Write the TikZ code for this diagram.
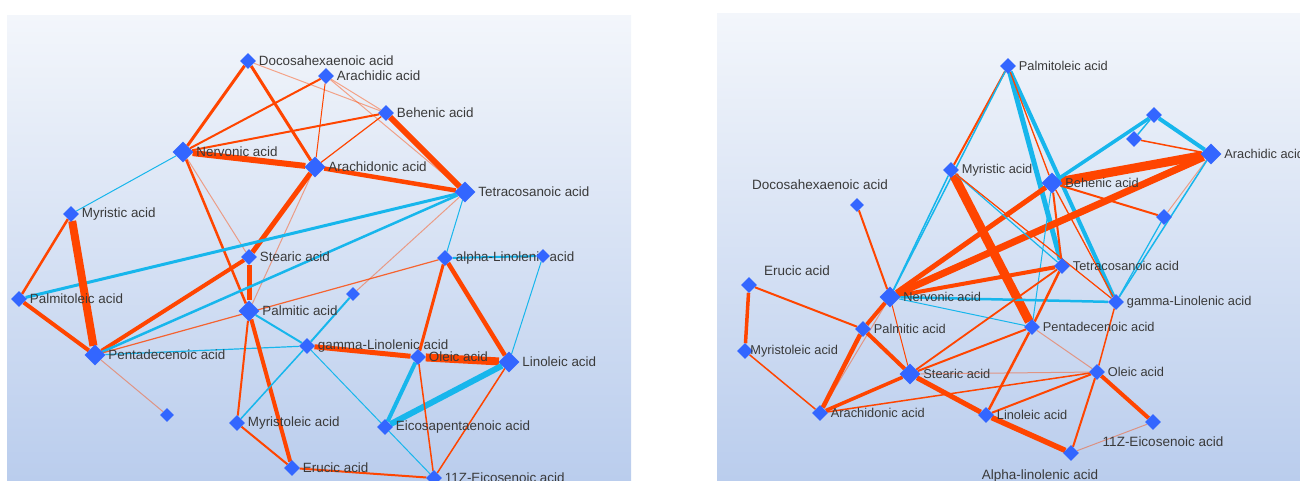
\documentclass[tikz,border=0pt]{standalone}
\usepackage{fontspec}
\setmainfont{Liberation Sans}
\usetikzlibrary{shapes.geometric}
\pgfdeclarelayer{edges}
\pgfsetlayers{edges,main}
\definecolor{edgeOr}{HTML}{FF4500}
\definecolor{edgeCy}{HTML}{17B6EC}
\definecolor{nodeBl}{HTML}{3366FF}
\definecolor{txtGr}{HTML}{3A3A3A}
\definecolor{bgTop}{HTML}{F3F6FB}
\definecolor{bgBot}{HTML}{BACDED}
\tikzset{
  nd/.style={diamond, fill=nodeBl, draw=none, inner sep=0pt, minimum width=16pt, minimum height=16pt},
  bignd/.style={nd, minimum width=21pt, minimum height=21pt},
  smnd/.style={nd, minimum width=14pt, minimum height=14pt},
  labL/.style={text=txtGr, font=\fontsize{13.4}{15}\selectfont, inner sep=1pt},
  labR/.style={text=txtGr, font=\fontsize{12.8}{15}\selectfont, inner sep=1pt},
  labX/.style={text=txtGr, font=\fontsize{13.5}{15}\selectfont, inner sep=1pt},
  eo/.style={draw=edgeOr, line width=#1},
  ec/.style={draw=edgeCy, line width=#1},
  el/.style={draw=edgeOr, opacity=.45, line width=1pt},
}
\begin{document}
\begin{tikzpicture}[x=1pt,y=-1pt]
\useasboundingbox (0,0) rectangle (1300,480);
% ---------- left graph nodes ----------
\begin{scope}[every label/.style={labL}, label distance=1.5pt]
\node[nd, label=right:Docosahexaenoic acid] (LDoc) at (248,61) {};
\node[nd, label=right:Arachidic acid] (LAchd) at (326,76) {};
\node[nd, label=right:Behenic acid] (LBeh) at (386,113) {};
\node[bignd, label=right:Nervonic acid] (LNerv) at (183,152) {};
\node[bignd, label=right:Arachidonic acid] (LAchn) at (315,167) {};
\node[bignd, label=right:Tetracosanoic acid] (LTetra) at (465,192) {};
\node[nd, label=right:Myristic acid] (LMyr) at (71,214) {};
\node[nd, label=right:Stearic acid] (LSte) at (249,257) {};
\node[nd, label=right:alpha-Linolenic acid] (LaLin) at (445,258) {};
\node[smnd] (LU1) at (543,256) {};
\node[nd, label=right:Palmitoleic acid] (LPalO) at (19,299) {};
\node[smnd] (LU2) at (353,294) {};
\node[bignd, label=right:Palmitic acid] (LPalm) at (249,311) {};
\node[nd, label=right:gamma-Linolenic acid] (LgLin) at (307,346) {};
\node[bignd, label=right:Pentadecenoic acid] (LPent) at (95,355) {};
\node[nd, label=right:Oleic acid] (LOle) at (418,357) {};
\node[bignd, label=right:Linoleic acid] (LLin) at (509,362) {};
\node[smnd] (LU3) at (167,415) {};
\node[nd, label=right:Myristoleic acid] (LMyrO) at (237,423) {};
\node[nd, label=right:Eicosapentaenoic acid] (LEpa) at (385,427) {};
\node[nd, label=right:Erucic acid] (LEru) at (292,468) {};
\node[nd, label=right:11Z-Eicosenoic acid] (L11Z) at (434,478) {};
\end{scope}
% ---------- right graph nodes ----------
\begin{scope}[every label/.style={labR}, label distance=1.5pt]
\node[nd, label=right:Palmitoleic acid] (RPalO) at (1008,66) {};
\node[nd] (RU1) at (1154,115) {};
\node[nd] (RU2) at (1134,139) {};
\node[bignd, label=right:Arachidic acid] (RAchd) at (1211,154) {};
\node[nd, label=right:Myristic acid] (RMyr) at (951,170) {};
\node[bignd, label=right:Behenic acid] (RBeh) at (1052,183) {};
\node[smnd, label={[labX, xshift=-37pt, label distance=7pt]above:Docosahexaenoic acid}] (RDoc) at (857,205) {};
\node[nd] (RU3) at (1164,217) {};
\node[nd, label=right:Tetracosanoic acid] (RTetra) at (1062,266) {};
\node[nd, label=right:gamma-Linolenic acid] (RgLin) at (1116,302) {};
\node[nd, label={[labX, xshift=48pt, label distance=0pt]above:Erucic acid}] (REru) at (749,285) {};
\node[bignd, label=right:Nervonic acid] (RNerv) at (890,297) {};
\node[nd, label=right:Palmitic acid] (RPalm) at (863,329) {};
\node[nd, label=right:Pentadecenoic acid] (RPent) at (1032,327) {};
\node[nd, label={[labR, label distance=-4pt]right:Myristoleic acid}] (RMyrO) at (745,351) {};
\node[nd, label=right:Oleic acid] (ROle) at (1097,372) {};
\node[bignd, label=right:Stearic acid] (RSte) at (910,374) {};
\node[nd, label=right:Arachidonic acid] (RAchn) at (820,413) {};
\node[nd, label=right:Linoleic acid] (RLin) at (986,415) {};
\node[nd, label={[labX, xshift=10pt, label distance=5pt]below:11Z-Eicosenoic acid}] (R11Z) at (1153,422) {};
\node[nd, label={[labX, xshift=-31pt, label distance=7pt]below:Alpha-linolenic acid}] (RAlin) at (1071,453) {};
\end{scope}
\begin{pgfonlayer}{edges}
\shade[top color=bgTop, bottom color=bgBot] (7,15) rectangle (631,480);
\shade[top color=bgTop, bottom color=bgBot] (717,13) rectangle (1300,480);
% ---------- left edges ----------
\draw[eo=3pt] (LDoc) -- (LNerv);
\draw[eo=3pt] (LDoc) -- (LAchn);
\draw[el] (LDoc) -- (LBeh);
\draw[eo=2pt] (LNerv) -- (LAchd);
\draw[eo=2pt] (LNerv) -- (LBeh);
\draw[eo=6pt] (LNerv) -- (LAchn);
\draw[ec=1pt] (LNerv) -- (LMyr);
\draw[eo=2.5pt] (LNerv) -- (LPalm);
\draw[el] (LNerv) -- (LSte);
\draw[eo=1pt] (LAchd) -- (LAchn);
\draw[el] (LAchd) -- (LBeh);
\draw[el] (LAchd) -- (LTetra);
\draw[eo=1.2pt] (LBeh) -- (LAchn);
\draw[eo=6pt] (LBeh) -- (LTetra);
\draw[eo=4.5pt] (LAchn) -- (LTetra);
\draw[eo=5pt] (LAchn) -- (LSte);
\draw[eo=5pt] (LSte) -- (LPalm);
\draw[eo=4pt] (LPent) -- (LSte);
\draw[el] (LAchn) -- (LPalm);
\draw[ec=3pt] (LTetra) -- (LPalO);
\draw[ec=2.5pt] (LTetra) -- (LPent);
\draw[ec=1pt] (LTetra) -- (LaLin);
\draw[el] (LTetra) -- (LU2);
\draw[eo=2.5pt] (LMyr) -- (LPalO);
\draw[eo=8pt] (LMyr) -- (LPent);
\draw[eo=4pt] (LPalO) -- (LPent);
\draw[eo=1.2pt, opacity=.8] (LPent) -- (LaLin);
\draw[el] (LPent) -- (LU3);
\draw[ec=1.2pt] (LPent) -- (LgLin);
\draw[ec=2pt] (LPalm) -- (LgLin);
\draw[eo=2pt] (LPalm) -- (LMyrO);
\draw[eo=4pt] (LPalm) -- (LEru);
\draw[ec=2pt] (LgLin) -- (LU2);
\draw[ec=1.5pt] (LgLin) -- (LMyrO);
\draw[eo=5pt] (LgLin) -- (LOle);
\draw[ec=1pt] (LgLin) -- (L11Z);
\draw[eo=8pt] (LOle) -- (LLin);
\draw[eo=3pt] (LOle) -- (LaLin);
\draw[eo=4.5pt] (LaLin) -- (LLin);
\draw[ec=4pt] (LOle) -- (LEpa);
\draw[ec=6pt] (LLin) -- (LEpa);
\draw[ec=1pt] (LLin) -- (LU1);
\draw[ec=2pt] (LaLin) -- (LU1);
\draw[eo=1.5pt] (LOle) -- (L11Z);
\draw[eo=1.5pt] (LLin) -- (L11Z);
\draw[eo=2pt] (LMyrO) -- (LEru);
\draw[eo=2pt] (LEru) -- (L11Z);
% ---------- right edges ----------
\draw[eo=2pt] (RPalO) -- (RMyr);
\draw[ec=1.5pt] (RPalO) -- (RNerv);
\draw[ec=1.5pt] (RMyr) -- (RNerv);
\draw[ec=5pt] (RPalO) -- (RTetra);
\draw[ec=4pt] (RPalO) -- (RgLin);
\draw[eo=1.3pt] (RPalO) -- (RBeh);
\draw[eo=1.3pt] (RBeh) -- (RgLin);
\draw[eo=9pt] (RBeh) -- (RAchd);
\draw[eo=7pt] (RNerv) -- (RAchd);
\draw[eo=5pt] (RNerv) -- (RBeh);
\draw[ec=3.5pt] (RBeh) -- (RU1);
\draw[ec=4pt] (RAchd) -- (RU1);
\draw[ec=1.5pt] (RU2) -- (RU1);
\draw[eo=1.5pt] (RU2) -- (RAchd);
\draw[eo=2pt] (RBeh) -- (RU3);
\draw[el] (RAchd) -- (RU3);
\draw[ec=1.5pt] (RAchd) -- (RgLin);
\draw[ec=1.2pt] (RU3) -- (RgLin);
\draw[eo=2pt] (RBeh) -- (RTetra);
\draw[ec=1pt] (RBeh) -- (RPent);
\draw[eo=9pt] (RMyr) -- (RPent);
\draw[ec=1.2pt] (RMyr) -- (RTetra);
\draw[eo=1.2pt] (RMyr) -- (RgLin);
\draw[eo=4pt] (RNerv) -- (RTetra);
\draw[ec=2.5pt] (RNerv) -- (RgLin);
\draw[ec=1pt] (RNerv) -- (RPent);
\draw[eo=2pt] (RNerv) -- (RDoc);
\draw[eo=4pt] (RNerv) -- (RPalm);
\draw[eo=4.5pt] (RPalm) -- (RAchn);
\draw[el] (RNerv) -- (RAchn);
\draw[eo=1pt] (RNerv) -- (RSte);
\draw[eo=3.5pt] (REru) -- (RMyrO);
\draw[eo=2pt] (REru) -- (RPalm);
\draw[eo=1.5pt] (RMyrO) -- (RAchn);
\draw[eo=4pt] (RPalm) -- (RSte);
\draw[eo=5pt] (RSte) -- (RLin);
\draw[eo=5.5pt] (RLin) -- (RAlin);
\draw[eo=3.5pt] (RAchn) -- (RSte);
\draw[eo=1.5pt] (RAchn) -- (ROle);
\draw[el] (RSte) -- (ROle);
\draw[eo=1.8pt] (RSte) -- (RTetra);
\draw[eo=2pt] (RSte) -- (RPent);
\draw[eo=2.5pt] (RLin) -- (RPent);
\draw[eo=2.5pt] (RTetra) -- (RPent);
\draw[eo=2pt] (RLin) -- (ROle);
\draw[eo=4pt] (ROle) -- (R11Z);
\draw[eo=2pt] (ROle) -- (RAlin);
\draw[el] (RAlin) -- (R11Z);
\draw[eo=1.5pt] (ROle) -- (RgLin);
\draw[el] (ROle) -- (RPent);
\end{pgfonlayer}
\end{tikzpicture}
\end{document}
